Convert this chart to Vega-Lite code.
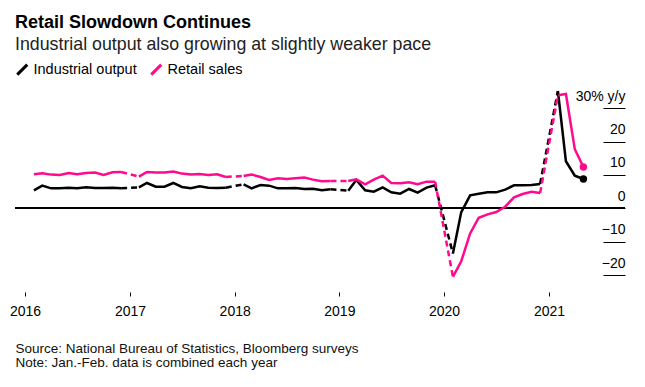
{
  "$schema": "https://vega.github.io/schema/vega-lite/v6.json",
  "width": 610,
  "height": 204,
  "autosize": {"type": "none"},
  "padding": {"left": 15, "top": 88, "right": 20, "bottom": 95},
  "config": {"font": "Liberation Sans", "view": {"stroke": null}},
  "title": {
    "text": "Retail Slowdown Continues",
    "subtitle": "Industrial output also growing at slightly weaker pace",
    "anchor": "start",
    "frame": "group",
    "fontSize": 18,
    "fontWeight": "bold",
    "color": "#000000",
    "subtitleFontSize": 17.8,
    "subtitleColor": "#222222",
    "subtitlePadding": 4,
    "offset": 8
  },
  "data": {
    "format": {"parse": {"date": "date"}},
    "values": [
      {"date": "2016-02-01", "Industrial output": 5.4, "Retail sales": 10.2},
      {"date": "2016-03-01", "Industrial output": 6.8, "Retail sales": 10.5},
      {"date": "2016-04-01", "Industrial output": 6.0, "Retail sales": 10.1},
      {"date": "2016-05-01", "Industrial output": 6.0, "Retail sales": 10.0},
      {"date": "2016-06-01", "Industrial output": 6.2, "Retail sales": 10.6},
      {"date": "2016-07-01", "Industrial output": 6.0, "Retail sales": 10.2},
      {"date": "2016-08-01", "Industrial output": 6.3, "Retail sales": 10.6},
      {"date": "2016-09-01", "Industrial output": 6.1, "Retail sales": 10.7},
      {"date": "2016-10-01", "Industrial output": 6.1, "Retail sales": 10.0},
      {"date": "2016-11-01", "Industrial output": 6.2, "Retail sales": 10.8},
      {"date": "2016-12-01", "Industrial output": 6.0, "Retail sales": 10.9},
      {"date": "2017-02-01", "Industrial output": 6.3, "Retail sales": 9.5},
      {"date": "2017-03-01", "Industrial output": 7.6, "Retail sales": 10.9},
      {"date": "2017-04-01", "Industrial output": 6.5, "Retail sales": 10.7},
      {"date": "2017-05-01", "Industrial output": 6.5, "Retail sales": 10.7},
      {"date": "2017-06-01", "Industrial output": 7.6, "Retail sales": 11.0},
      {"date": "2017-07-01", "Industrial output": 6.4, "Retail sales": 10.4},
      {"date": "2017-08-01", "Industrial output": 6.0, "Retail sales": 10.1},
      {"date": "2017-09-01", "Industrial output": 6.6, "Retail sales": 10.3},
      {"date": "2017-10-01", "Industrial output": 6.2, "Retail sales": 10.0},
      {"date": "2017-11-01", "Industrial output": 6.1, "Retail sales": 10.2},
      {"date": "2017-12-01", "Industrial output": 6.2, "Retail sales": 9.4},
      {"date": "2018-02-01", "Industrial output": 7.2, "Retail sales": 9.7},
      {"date": "2018-03-01", "Industrial output": 6.0, "Retail sales": 10.1},
      {"date": "2018-04-01", "Industrial output": 7.0, "Retail sales": 9.4},
      {"date": "2018-05-01", "Industrial output": 6.8, "Retail sales": 8.5},
      {"date": "2018-06-01", "Industrial output": 6.0, "Retail sales": 9.0},
      {"date": "2018-07-01", "Industrial output": 6.0, "Retail sales": 8.8},
      {"date": "2018-08-01", "Industrial output": 6.1, "Retail sales": 9.0},
      {"date": "2018-09-01", "Industrial output": 5.8, "Retail sales": 9.2},
      {"date": "2018-10-01", "Industrial output": 5.9, "Retail sales": 8.6},
      {"date": "2018-11-01", "Industrial output": 5.4, "Retail sales": 8.1},
      {"date": "2018-12-01", "Industrial output": 5.7, "Retail sales": 8.2},
      {"date": "2019-02-01", "Industrial output": 5.3, "Retail sales": 8.2},
      {"date": "2019-03-01", "Industrial output": 8.5, "Retail sales": 8.7},
      {"date": "2019-04-01", "Industrial output": 5.4, "Retail sales": 7.2},
      {"date": "2019-05-01", "Industrial output": 5.0, "Retail sales": 8.6},
      {"date": "2019-06-01", "Industrial output": 6.3, "Retail sales": 9.8},
      {"date": "2019-07-01", "Industrial output": 4.8, "Retail sales": 7.6},
      {"date": "2019-08-01", "Industrial output": 4.4, "Retail sales": 7.5},
      {"date": "2019-09-01", "Industrial output": 5.8, "Retail sales": 7.8},
      {"date": "2019-10-01", "Industrial output": 4.7, "Retail sales": 7.2},
      {"date": "2019-11-01", "Industrial output": 6.2, "Retail sales": 8.0},
      {"date": "2019-12-01", "Industrial output": 6.9, "Retail sales": 8.0},
      {"date": "2020-02-01", "Industrial output": -13.5, "Retail sales": -20.5},
      {"date": "2020-03-01", "Industrial output": -1.1, "Retail sales": -15.8},
      {"date": "2020-04-01", "Industrial output": 3.9, "Retail sales": -7.5},
      {"date": "2020-05-01", "Industrial output": 4.4, "Retail sales": -2.8},
      {"date": "2020-06-01", "Industrial output": 4.8, "Retail sales": -1.8},
      {"date": "2020-07-01", "Industrial output": 4.8, "Retail sales": -1.1},
      {"date": "2020-08-01", "Industrial output": 5.6, "Retail sales": 0.5},
      {"date": "2020-09-01", "Industrial output": 6.9, "Retail sales": 3.3},
      {"date": "2020-10-01", "Industrial output": 6.9, "Retail sales": 4.3},
      {"date": "2020-11-01", "Industrial output": 7.0, "Retail sales": 5.0},
      {"date": "2020-12-01", "Industrial output": 7.3, "Retail sales": 4.6},
      {"date": "2021-02-01", "Industrial output": 35.1, "Retail sales": 33.8},
      {"date": "2021-03-01", "Industrial output": 14.1, "Retail sales": 34.2},
      {"date": "2021-04-01", "Industrial output": 9.8, "Retail sales": 17.7},
      {"date": "2021-05-01", "Industrial output": 8.8, "Retail sales": 12.4}
    ]
  },
  "transform": [
    {"fold": ["Industrial output", "Retail sales"], "as": ["series", "value"]}
  ],
  "layer": [
    {
      "mark": {"type": "rule", "color": "#000000", "strokeWidth": 1},
      "encoding": {
        "y": {"datum": 0, "type": "quantitative"}
      }
    },
    {
      "mark": {"type": "line", "strokeWidth": 2.5},
      "encoding": {
        "x": {
          "field": "date",
          "type": "temporal",
          "scale": {
            "type": "utc",
            "domain": [
              {"year": 2015, "month": 11, "date": 27, "utc": true},
              {"year": 2021, "month": 9, "date": 23, "utc": true}
            ]
          },
          "axis": {
            "values": [
              {"year": 2016, "utc": true},
              {"year": 2017, "utc": true},
              {"year": 2018, "utc": true},
              {"year": 2019, "utc": true},
              {"year": 2020, "utc": true},
              {"year": 2021, "utc": true}
            ],
            "format": "%Y",
            "domain": false,
            "grid": false,
            "ticks": true,
            "tickSize": 4,
            "tickColor": "#000000",
            "labelFontSize": 14,
            "labelColor": "#000000",
            "labelPadding": 8,
            "title": [
              "Source: National Bureau of Statistics, Bloomberg surveys",
              "Note: Jan.-Feb. data is combined each year"
            ],
            "titleAnchor": "start",
            "titleAlign": "left",
            "titleFontSize": 13.5,
            "titleFontWeight": "normal",
            "titleColor": "#111111",
            "titleLineHeight": 14.5,
            "titlePadding": 23
          }
        },
        "y": {
          "field": "value",
          "type": "quantitative",
          "scale": {"domain": [-25, 36], "nice": false, "zero": false},
          "axis": {
            "orient": "right",
            "values": [-20, -10, 0, 10, 20, 30],
            "domain": false,
            "grid": false,
            "ticks": true,
            "tickSize": -22,
            "tickColor": "#000000",
            "labelAlign": "right",
            "labelBaseline": "alphabetic",
            "labelOffset": -8,
            "labelPadding": 22,
            "labelFontSize": 14,
            "labelColor": "#000000",
            "labelExpr": "datum.value == 30 ? '30% y/y' : datum.label",
            "title": null
          }
        },
        "color": {
          "field": "series",
          "type": "nominal",
          "scale": {"domain": ["Industrial output", "Retail sales"], "range": ["#000000", "#ff0a8c"]},
          "legend": {
            "orient": "none",
            "legendX": 0,
            "legendY": -26,
            "direction": "horizontal",
            "title": null,
            "padding": 0,
            "symbolType": "M-1,1L1,-1",
            "symbolStrokeWidth": 3,
            "symbolSize": 100,
            "labelFontSize": 14.5,
            "labelColor": "#000000",
            "labelOffset": 4,
            "columnPadding": 8
          }
        },
        "detail": {"field": "date", "timeUnit": "utcyear", "type": "ordinal"}
      }
    },
    {
      "transform": [
        {"filter": "utcmonth(datum.date) == 11 || (utcmonth(datum.date) == 1 && utcyear(datum.date) > 2016)"},
        {"calculate": "utcmonth(datum.date) == 11 ? utcyear(datum.date) + 1 : utcyear(datum.date)", "as": "gap"}
      ],
      "mark": {"type": "line", "strokeWidth": 2.5, "strokeDash": [6, 4]},
      "encoding": {
        "x": {"field": "date", "type": "temporal"},
        "y": {"field": "value", "type": "quantitative"},
        "color": {"field": "series", "type": "nominal"},
        "detail": {"field": "gap", "type": "ordinal"}
      }
    },
    {
      "transform": [
        {"filter": "utcyear(datum.date) == 2021 && utcmonth(datum.date) == 4"}
      ],
      "mark": {"type": "point", "filled": true, "size": 55, "opacity": 1},
      "encoding": {
        "x": {"field": "date", "type": "temporal"},
        "y": {"field": "value", "type": "quantitative"},
        "color": {"field": "series", "type": "nominal", "legend": null}
      }
    }
  ]
}
